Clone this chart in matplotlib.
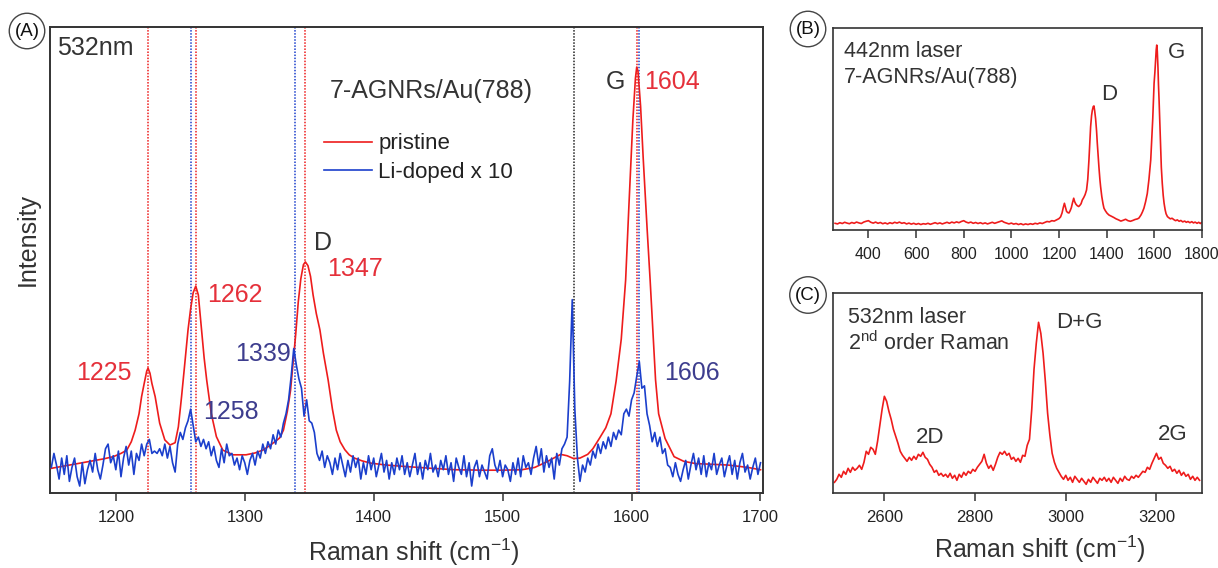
import numpy as np
import matplotlib
matplotlib.use('Agg')
import matplotlib.pyplot as plt

plt.rcParams['font.family'] = ['Liberation Sans', 'DejaVu Sans']
plt.rcParams['mathtext.fontset'] = 'custom'
plt.rcParams['mathtext.rm'] = 'Liberation Sans'
plt.rcParams['mathtext.it'] = 'Liberation Sans:italic'
plt.rcParams['mathtext.bf'] = 'Liberation Sans:bold'

# ---------------- Panel A data (532 nm) ----------------
pristine_x = [1150, 1160, 1170, 1180, 1190, 1198, 1204, 1208.5, 1212, 1215, 1218, 1220, 1222, 1224,
              1225, 1226.5, 1228, 1230.5, 1234, 1238, 1242, 1246, 1248.5, 1251, 1253.5, 1256, 1258,
              1260, 1262, 1264, 1266.5, 1268.5, 1270.5, 1274, 1278, 1283, 1291, 1301, 1308, 1314,
              1320, 1327, 1330, 1333, 1335.5, 1337.5, 1339.5, 1341.5, 1343.5, 1345.5, 1347, 1349,
              1351, 1353, 1355.5, 1358.3, 1361, 1364.7, 1368, 1371, 1374, 1377.6, 1381, 1385, 1391,
              1398, 1410, 1424, 1445, 1463, 1485, 1500, 1515, 1525, 1535, 1545, 1550, 1555, 1560,
              1566, 1570, 1575, 1580, 1584, 1588, 1592, 1595.4, 1598, 1601, 1603, 1604, 1605, 1607,
              1609, 1612, 1614.4, 1616.5, 1618.6, 1621, 1626, 1633, 1640.5, 1650, 1660, 1675, 1690,
              1700]
pristine_y = [5.3, 5.8, 6.3, 6.8, 7.3, 7.8, 8.5, 9.2, 11.0, 13.5, 17.0, 20.7, 23.5, 26.2,
              26.8, 25.7, 23.5, 20.7, 15.0, 11.4, 10.3, 10.8, 14.2, 20.7, 27.8, 35.0, 39.5,
              43.0, 44.4, 42.5, 35.0, 29.0, 24.2, 17.1, 12.1, 9.2, 8.2, 8.2, 8.6, 9.2,
              10.3, 11.8, 13.5, 17.5, 22.0, 28.0, 34.0, 41.0, 46.0, 49.0, 49.6, 48.8,
              46.5, 42.5, 38.5, 35.0, 30.0, 24.2, 18.0, 13.5, 11.0, 9.3, 8.2, 7.5, 6.9,
              6.4, 6.0, 5.7, 5.3, 5.0, 4.9, 4.9, 5.0, 5.5, 6.8, 8.3, 8.0, 7.4, 7.5,
              8.3, 9.5, 11.7, 14.0, 17.0, 24.0, 33.0, 45.7, 62.0, 80.0, 89.0, 91.4, 90.5, 83.0,
              72.0, 57.0, 45.7, 35.0, 24.3, 17.0, 11.7, 7.8, 6.8, 6.3, 6.2, 6.0, 5.5,
              5.0]

lidoped_x = np.arange(1150, 1702, 2)
lidoped_y = [
    5.5, 8.5, 6.0, 3.0, 7.5, 4.0, 8.0, 2.5, 5.5, 7.5,
    3.5, 1.5, 6.5, 2.0, 5.0, 7.0, 4.5, 8.5, 5.0, 3.0,
    6.0, 9.5, 10.5, 6.5, 8.0, 5.0, 9.0, 3.5, 7.5, 10.0,
    6.0, 9.0, 4.0, 8.5, 7.0, 10.5, 8.0, 10.5, 11.5, 8.5,
    9.0, 8.5, 9.5, 8.0, 10.5, 7.5, 10.0, 6.5, 4.5, 10.5,
    13.0, 11.5, 14.0, 15.5, 18.0, 14.5, 11.0, 12.0, 10.0, 11.5,
    9.5, 11.0, 8.0, 10.0, 7.0, 5.5, 9.5, 6.5, 10.5, 8.0,
    8.5, 6.0, 7.5, 5.0, 8.0, 6.5, 4.0, 7.0, 8.5, 6.0,
    9.0, 7.5, 10.5, 8.5, 11.0, 9.5, 12.5, 10.5, 13.5, 12.0,
    15.0, 17.0, 20.0, 25.0, 31.0, 27.5, 24.5, 22.5, 16.5, 20.0,
    15.5, 15.0, 13.0, 8.5, 7.0, 9.0, 5.5, 8.0, 6.5, 4.0,
    7.5, 5.0, 8.5, 6.0, 3.5, 7.0, 4.5, 8.0, 5.5, 7.5,
    3.0, 6.5, 4.0, 8.0, 5.0, 7.5, 3.5, 6.0, 8.5, 4.5,
    7.0, 3.0, 6.5, 4.0, 7.5, 5.0, 8.0, 4.0, 6.5, 3.5,
    6.0, 8.5, 4.0, 6.5, 3.0, 7.0, 5.0, 8.5, 4.5, 6.0,
    3.5, 7.0, 5.0, 8.0, 4.0, 6.5, 2.5, 7.5, 5.5, 4.0,
    8.0, 3.5, 6.5, 1.5, 5.5, 7.0, 3.5, 6.0, 4.5, 3.0,
    8.0, 9.5, 6.0, 4.5, 7.0, 3.5, 6.0, 5.0, 2.5, 6.5,
    4.0, 7.5, 3.5, 8.0, 5.5, 6.5, 4.0, 7.5, 10.0, 6.0,
    9.5, 4.5, 8.0, 5.5, 7.5, 3.0, 8.5, 6.0, 9.5, 10.5,
    12.0, 24.0, 41.5, 18.0, 7.5, 2.5, 6.0, 4.5, 7.5, 6.0,
    9.0, 7.5, 10.5, 8.5, 11.0, 9.5, 12.0, 10.0, 13.0, 11.5,
    13.5, 12.5, 17.0, 18.0, 16.5, 20.0, 21.5, 25.0, 28.2, 22.5,
    23.0, 17.0, 14.5, 11.0, 13.0, 10.0, 12.0, 8.5, 9.5, 6.0,
    5.5, 3.5, 6.5, 4.0, 2.5, 5.0, 7.0, 3.0, 6.0, 8.5,
    5.0, 7.5, 4.0, 8.0, 3.5, 6.5, 5.0, 8.5, 4.0, 6.0,
    7.5, 3.5, 6.0, 8.0, 4.0, 7.0, 3.0, 6.5, 8.5, 4.5,
    6.0, 3.0, 5.5, 7.5, 4.0, 6.5]

red_marks = [1225, 1262, 1347, 1604]
blue_marks = [1258, 1339, 1606]
black_marks = [1555]

# ---------------- Panel B data (442 nm) ----------------
b_base_x = list(range(260, 1190, 10))
b_base_y = [3.3, 3.0, 3.6, 3.2, 3.8, 3.4, 3.1, 3.7, 3.3, 3.9,
            3.5, 3.2, 3.9, 4.3, 4.6, 3.8, 3.4, 3.9, 3.3, 3.7,
            3.1, 3.5, 3.0, 3.6, 3.2, 3.8, 3.4, 3.9, 3.3, 3.6,
            3.0, 3.4, 2.9, 3.3, 2.8, 3.2, 2.7, 3.1, 2.9, 3.3,
            2.8, 3.2, 3.6, 3.1, 3.5, 3.0, 3.4, 3.8, 3.3, 3.9,
            3.5, 4.0, 3.6, 4.2, 4.6, 3.9, 3.5, 3.9, 3.3, 3.7,
            3.2, 3.6, 3.1, 3.5, 3.0, 3.4, 3.8, 3.3, 3.7, 4.1,
            4.5, 3.8, 3.4, 3.0, 3.4, 2.9, 3.2, 2.7, 3.1, 2.6,
            3.0, 2.7, 3.1, 2.8, 3.3, 3.0, 3.5, 3.2, 3.7, 4.2,
            4.0, 4.6, 4.4]
b_peak_x = [1190, 1200, 1207, 1213, 1218, 1223, 1227, 1232, 1237, 1242, 1247, 1252, 1257, 1262,
            1266, 1271, 1277, 1283, 1288, 1293, 1298, 1304, 1310, 1316, 1321, 1326, 1330, 1333,
            1337, 1340, 1344, 1347, 1350, 1354, 1358, 1361, 1365, 1368, 1372, 1375, 1380, 1385,
            1389, 1395, 1402, 1410, 1420, 1430, 1440, 1450, 1460, 1470, 1480, 1490, 1500, 1510,
            1520, 1530, 1536, 1545, 1551, 1557, 1564, 1571, 1578, 1585.5, 1590, 1594, 1597,
            1599.6, 1603, 1606, 1608.5, 1610.8, 1613, 1616, 1618, 1620.6, 1624, 1627, 1630, 1634,
            1638, 1641.6, 1646, 1650, 1655.7, 1662, 1668, 1675, 1684, 1690, 1697, 1705, 1712,
            1720, 1728, 1735, 1742, 1750, 1758, 1765, 1772, 1780, 1787, 1794, 1798]
b_peak_y = [5.0, 5.6, 6.5, 8.4, 11.0, 13.2, 11.5, 9.2, 8.6, 8.4, 9.5, 11.0, 13.5, 15.7,
            14.0, 12.8, 12.0, 11.6, 12.2, 13.0, 14.8, 16.0, 17.5, 19.8, 25.0, 34.6, 44.0, 51.0,
            56.5, 59.0, 61.0, 61.3, 59.0, 55.0, 49.0, 43.0, 36.0, 31.0, 25.0, 21.4, 16.5, 13.0,
            10.8, 9.5, 8.3, 7.4, 6.8, 6.2, 5.5, 5.0, 4.4, 4.8, 5.3, 4.6, 4.3, 4.7,
            5.2, 5.5, 5.9, 7.5, 9.0, 10.8, 14.0, 18.0, 25.0, 34.6, 45.0, 55.0, 65.0,
            72.5, 78.0, 84.0, 89.0, 91.4, 88.5, 80.0, 72.0, 64.0, 52.0, 41.0, 31.0, 23.0,
            17.0, 13.2, 10.0, 8.0, 6.6, 6.0, 5.5, 5.8, 5.0, 4.6, 5.0, 4.3, 4.7,
            4.0, 4.4, 3.8, 4.2, 3.6, 4.1, 3.5, 3.9, 3.3, 3.8, 3.2, 3.6]
b_x = b_base_x + b_peak_x
b_y = b_base_y + b_peak_y

# ---------------- Panel C data (2nd order) ----------------
c_x = np.arange(2490, 3300, 5)
c_y = [5.5, 7.0, 9.5, 8.0, 11.0, 9.5, 12.5, 10.5, 13.0, 11.5,
       12.5, 14.0, 12.0, 15.5, 21.0, 19.5, 23.0, 22.0, 19.5, 26.0,
       34.0, 42.0, 48.5, 46.0, 41.0, 37.0, 32.0, 28.5, 25.0, 21.0,
       19.0, 17.5, 16.0, 18.0, 16.5, 18.5, 17.0, 19.5, 18.5, 20.5,
       18.0, 17.0, 14.5, 13.0, 10.5, 11.5, 9.0, 10.0, 8.5, 9.5,
       8.0, 10.0, 7.5, 9.0, 6.5, 9.5, 8.0, 10.5, 9.0, 11.0,
       10.0, 12.0, 11.0, 13.0, 14.5, 16.0, 19.5, 15.0, 12.5, 14.0,
       11.5, 14.5, 18.0, 20.5, 19.5, 21.0, 19.0, 20.0, 17.0, 18.0,
       16.0, 17.5, 15.5, 19.0, 18.5, 24.0, 27.0, 42.0, 62.0, 75.0,
       85.5, 80.0, 70.0, 56.0, 40.0, 29.0, 20.0, 15.5, 12.5, 10.5,
       8.5, 7.0, 9.0, 6.5, 8.0, 5.5, 8.5, 7.0, 5.5, 7.5,
       6.0, 4.5, 7.0, 5.5, 8.0, 6.5, 5.0, 7.5, 6.5, 8.0,
       6.0, 7.5, 5.5, 8.0, 6.5, 5.0, 7.5, 6.0, 8.5, 7.0,
       6.5, 8.5, 7.5, 9.0, 8.0, 9.5, 11.0, 10.5, 13.0, 12.0,
       15.0, 17.5, 20.0, 17.0, 18.0, 15.0, 14.0, 12.5, 13.5, 11.0,
       12.0, 10.0, 11.5, 9.0, 10.5, 8.5, 9.5, 7.0, 8.5, 6.5,
       8.0, 6.5]

# ---------------- styling ----------------
RED = '#ee1c1c'
BLUE = '#1b3fcc'
RED_TXT = '#e5303a'
BLUE_TXT = '#3d3d8e'
DARK = '#333333'

fig = plt.figure(figsize=(12.18, 5.68), dpi=100)
axA = fig.add_axes([0.0411, 0.1320, 0.5854, 0.8204])
axB = fig.add_axes([0.6837, 0.5951, 0.3030, 0.3562])
axC = fig.add_axes([0.6842, 0.1315, 0.3025, 0.3521])

for ax, lw in ((axA, 1.4), (axB, 1.2), (axC, 1.2)):
    for s in ax.spines.values():
        s.set_color(DARK)
        s.set_linewidth(lw)
    ax.set_yticks([])
    ax.set_ylim(0, 100)
    ax.tick_params(axis='x', direction='out', length=6, width=1.1, color=DARK,
                   labelcolor='#222222', pad=6)

# Panel A
for xv in red_marks:
    axA.axvline(xv, color=RED, ls=(0, (1, 1)), lw=1.1, zorder=1)
for xv in blue_marks:
    axA.axvline(xv, color=BLUE, ls=(0, (1, 1)), lw=1.1, zorder=1)
for xv in black_marks:
    axA.axvline(xv, color='#222222', ls=(0, (1, 1)), lw=1.1, zorder=1)

axA.plot(pristine_x, pristine_y, color=RED, lw=1.2, label='pristine', zorder=3)
axA.plot(lidoped_x, lidoped_y, color=BLUE, lw=1.2, label='Li-doped x 10', zorder=4)
axA.set_xlim(1149, 1702)
axA.set_xticks([1200, 1300, 1400, 1500, 1600, 1700])
axA.tick_params(axis='x', labelsize=12)

leg = axA.legend(loc='upper left', bbox_to_anchor=(0.384, 0.772), frameon=False,
                 fontsize=16, handlelength=2.15, handletextpad=0.3, borderpad=0,
                 borderaxespad=0, labelspacing=0.35)
for t in leg.get_texts():
    t.set_color('#222222')

axA.text(1154.4, 95.5, '532nm', fontsize=18, color=DARK, ha='left', va='center')
axA.text(1366.3, 86.3, '7-AGNRs/Au(788)', fontsize=18, color=DARK, ha='left', va='center')
axA.text(1360.9, 53.6, 'D', fontsize=18, color=DARK, ha='center', va='center')
axA.text(1587.5, 88.2, 'G', fontsize=18, color=DARK, ha='center', va='center')
axA.text(1385.6, 48.1, '1347', fontsize=18, color=RED_TXT, ha='center', va='center')
axA.text(1610.0, 88.2, '1604', fontsize=18, color=RED_TXT, ha='left', va='center')
axA.text(1271.2, 42.5, '1262', fontsize=18, color=RED_TXT, ha='left', va='center')
axA.text(1212.4, 25.8, '1225', fontsize=18, color=RED_TXT, ha='right', va='center')
axA.text(1336.1, 29.8, '1339', fontsize=18, color=BLUE_TXT, ha='right', va='center')
axA.text(1268.0, 17.4, '1258', fontsize=18, color=BLUE_TXT, ha='left', va='center')
axA.text(1625.4, 25.8, '1606', fontsize=18, color=BLUE_TXT, ha='left', va='center')

# Panel B
axB.plot(b_x, b_y, color=RED, lw=1.2)
axB.set_xlim(250, 1800)
axB.set_xticks([400, 600, 800, 1000, 1200, 1400, 1600, 1800])
axB.tick_params(axis='x', labelsize=11.5)
axB.text(297.6, 88.0, '442nm laser', fontsize=15.5, color=DARK, ha='left', va='center')
axB.text(297.6, 75.6, '7-AGNRs/Au(788)', fontsize=15.5, color=DARK, ha='left', va='center')
axB.text(1413, 67.0, 'D', fontsize=16, color=DARK, ha='center', va='center')
axB.text(1692.8, 87.5, 'G', fontsize=16, color=DARK, ha='center', va='center')

# Panel C
axC.plot(c_x, c_y, color=RED, lw=1.2)
axC.set_xlim(2487.5, 3300)
axC.set_xticks([2600, 2800, 3000, 3200])
axC.tick_params(axis='x', labelsize=12)
axC.text(2520.6, 87.9, '532nm laser', fontsize=15.5, color=DARK, ha='left', va='center')
axC.text(2520.6, 75.0, r'2$^{\mathrm{nd}}$ order Raman', fontsize=15.5, color=DARK,
         ha='left', va='center')
axC.text(3030, 85.4, 'D+G', fontsize=16, color=DARK, ha='center', va='center')
axC.text(2700, 27.9, '2D', fontsize=16, color=DARK, ha='center', va='center')
axC.text(3234.7, 29.6, '2G', fontsize=16, color=DARK, ha='center', va='center')

# Axis labels
fig.text(413.5 / 1218, 1 - 552 / 568, r'Raman shift (cm$^{\mathrm{-1}}$)', fontsize=18,
         color=DARK, ha='center', va='center')
fig.text(1040 / 1218, 1 - 549 / 568, r'Raman shift (cm$^{\mathrm{-1}}$)', fontsize=18,
         color=DARK, ha='center', va='center')
fig.text(28 / 1218, 1 - 240 / 568, 'Intensity', fontsize=18, color=DARK, rotation=90,
         ha='center', va='center')

# Panel letters in circles
for lab, px, py in (('(A)', 27, 31), ('(B)', 808, 29), ('(C)', 808, 295)):
    fig.text(px / 1218, 1 - py / 568, lab, fontsize=13.5, color='#111111', ha='center',
             va='center',
             bbox=dict(boxstyle='circle,pad=0.28', fc='white', ec='#444444', lw=1.0))

fig.savefig('out.png', dpi=100)
